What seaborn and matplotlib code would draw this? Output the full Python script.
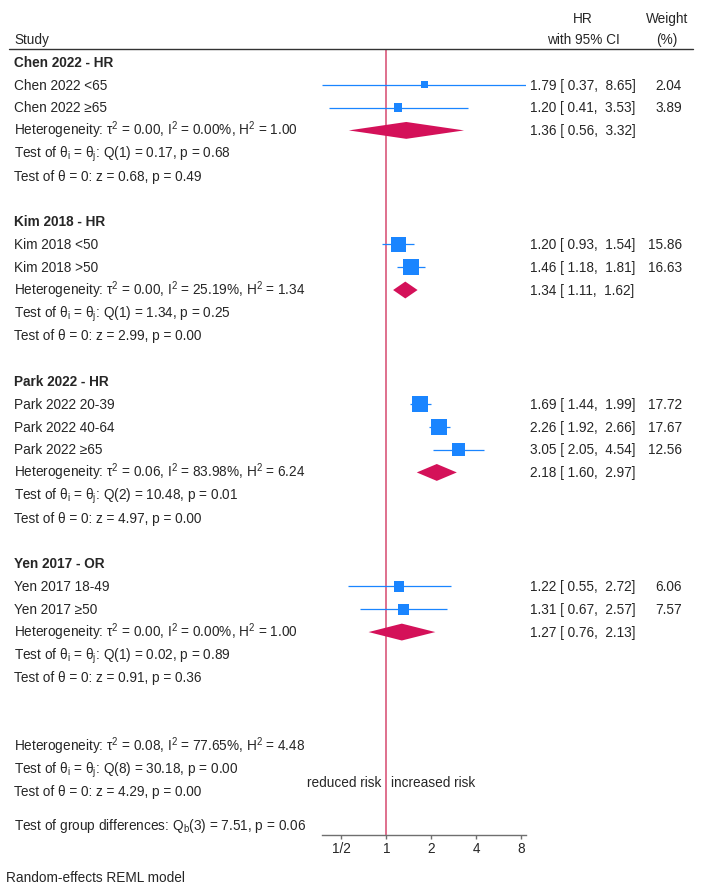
import pandas as pd
import seaborn as sns
import matplotlib.pyplot as plt
from matplotlib.transforms import blended_transform_factory
from matplotlib.patches import Polygon
from matplotlib.lines import Line2D

sns.set_theme(style="white")
plt.rcParams["font.family"] = ["Liberation Sans", "DejaVu Sans"]
plt.rcParams["mathtext.fontset"] = "custom"
plt.rcParams["mathtext.rm"] = "Liberation Sans"
plt.rcParams["mathtext.it"] = "Liberation Sans:italic"
plt.rcParams["font.size"] = 9.8

# ---- data ----
groups = ["Chen 2022 - HR", "Kim 2018 - HR", "Park 2022 - HR", "Yen 2017 - OR"]
study_group = [0, 0, 1, 1, 2, 2, 2, 3, 3]
study_labels = ["Chen 2022 <65", "Chen 2022 ≥65", "Kim 2018 <50", "Kim 2018 >50",
                "Park 2022 20-39", "Park 2022 40-64", "Park 2022 ≥65",
                "Yen 2017 18-49", "Yen 2017 ≥50"]
study_est = [1.79, 1.20, 1.20, 1.46, 1.69, 2.26, 3.05, 1.22, 1.31]
study_lo = [0.37, 0.41, 0.93, 1.18, 1.44, 1.92, 2.05, 0.55, 0.67]
study_hi = [8.65, 3.53, 1.54, 1.81, 1.99, 2.66, 4.54, 2.72, 2.57]
study_weight = [2.04, 3.89, 15.86, 16.63, 17.72, 17.67, 12.56, 6.06, 7.57]

group_est = [1.36, 1.34, 2.18, 1.27]
group_lo = [0.56, 1.11, 1.60, 0.76]
group_hi = [3.32, 1.62, 2.97, 2.13]
group_tau2 = ["0.00", "0.00", "0.06", "0.00"]
group_i2 = ["0.00", "25.19", "83.98", "0.00"]
group_h2 = ["1.00", "1.34", "6.24", "1.00"]
group_q = ["Q(1) = 0.17, p = 0.68", "Q(1) = 1.34, p = 0.25",
           "Q(2) = 10.48, p = 0.01", "Q(1) = 0.02, p = 0.89"]
group_z = ["z = 0.68, p = 0.49", "z = 2.99, p = 0.00",
           "z = 4.97, p = 0.00", "z = 0.91, p = 0.36"]

overall_het = ["0.08", "77.65", "4.48"]
overall_q = "Q(8) = 30.18, p = 0.00"
overall_z = "z = 4.29, p = 0.00"
group_diff = "Q$_\\mathregular{b}$(3) = 7.51, p = 0.06"

tick_vals = [0.5, 1, 2, 4, 8]
tick_labels = ["1/2", "1", "2", "4", "8"]

BLUE = "#1a85ff"
CRAN = "#d41159"


def het_text(t, i, h):
    return ("Heterogeneity: τ$^\\mathregular{2}$ = %s, I$^\\mathregular{2}$ = %s%%, "
            "H$^\\mathregular{2}$ = %s" % (t, i, h))


def q_text(q):
    return "Test of θ$_\\mathregular{i}$ = θ$_\\mathregular{j}$: " + q


def z_text(z):
    return "Test of θ = 0: " + z


# ---- row layout ----
rows = []  # (y, kind, text)
study_y = []
group_y = []
r = 0
for g, name in enumerate(groups):
    rows.append((r, "head", name))
    r += 1
    for k in range(len(study_labels)):
        if study_group[k] == g:
            study_y.append(r)
            r += 1
    group_y.append(r)
    rows.append((r, "text", het_text(group_tau2[g], group_i2[g], group_h2[g])))
    rows.append((r + 1, "text", q_text(group_q[g])))
    rows.append((r + 2, "text", z_text(group_z[g])))
    r += 4
r += 1
rows.append((r, "text", het_text(*overall_het)))
rows.append((r + 1, "text", q_text(overall_q)))
rows.append((r + 2, "text", z_text(overall_z)))
risk_y = r + 1.6
diff_y = r + 3.45
y_bottom = r + 3.9
y_top = -0.57
base = 0.21  # baseline shift so caps sit centred on the row

df = pd.DataFrame({"label": study_labels, "est": study_est, "lo": study_lo,
                   "hi": study_hi, "weight": study_weight, "y": study_y})

fig = plt.figure(figsize=(7.05, 8.88), dpi=100)
ax = fig.add_axes([322 / 705, 53 / 888, 204 / 705, 786 / 888])

ax.axvline(1, color="#d9587a", lw=1.2, zorder=1)
ax.hlines(df["y"], df["lo"], df["hi"], color=BLUE, lw=0.9, zorder=2)
sns.scatterplot(data=df, x="est", y="y", size="weight",
                sizes=(25.4, 132.7), size_norm=(min(study_weight), max(study_weight)),
                marker="s", color=BLUE, edgecolor="none", legend=False, ax=ax, zorder=3)

dh = 0.37
for g in range(len(groups)):
    y = group_y[g]
    ax.add_patch(Polygon([(group_lo[g], y), (group_est[g], y - dh),
                          (group_hi[g], y), (group_est[g], y + dh)],
                         closed=True, facecolor=CRAN, edgecolor="none", zorder=3))

ax.set_xscale("log", base=2)
ax.set_xlim(min(study_lo), max(study_hi))
ax.set_ylim(y_bottom, y_top)
ax.set_xticks(tick_vals)
ax.set_xticklabels(tick_labels)
ax.minorticks_off()
ax.set_yticks([])
ax.set_xlabel("")
ax.set_ylabel("")
for s in ["top", "left", "right"]:
    ax.spines[s].set_visible(False)
ax.spines["bottom"].set_color("#6f6f6f")
ax.spines["bottom"].set_linewidth(1.0)
ax.tick_params(axis="x", bottom=True, direction="out", length=3, width=1,
               color="#6f6f6f", labelsize=9.8, pad=2)

tr = blended_transform_factory(fig.transFigure, ax.transData)
x_lab = 14 / 705
x_ci = 530 / 705
x_w = 682 / 705
x_wh = 667 / 705
x_hr = 583 / 705


def put(x, y, s, ha="left", **kw):
    ax.text(x, y + base, s, transform=tr, ha=ha, va="baseline", clip_on=False, **kw)


# header
put(x_lab, -1.0, "Study")
put(x_hr, -1.93, "HR", ha="center")
put(x_hr, -1.0, "with 95% CI", ha="center")
put(x_wh, -1.93, "Weight", ha="center")
put(x_wh, -1.0, "(%)", ha="center")
fig.add_artist(Line2D([9 / 705, 693 / 705], [y_top, y_top], transform=tr,
                      color="#333333", lw=1.0))

for y, kind, txt in rows:
    put(x_lab, y, txt, fontweight="bold" if kind == "head" else "normal")

for k in range(len(study_labels)):
    y = study_y[k]
    put(x_lab, y, study_labels[k])
    put(x_ci, y, "%.2f [ %.2f,  %.2f]" % (study_est[k], study_lo[k], study_hi[k]))
    put(x_w, y, "%.2f" % study_weight[k], ha="right")

for g in range(len(groups)):
    put(x_ci, group_y[g], "%.2f [ %.2f,  %.2f]" % (group_est[g], group_lo[g], group_hi[g]))

put(x_lab, diff_y, "Test of group differences: " + group_diff)
ax.annotate("reduced risk", (1, risk_y + base), xytext=(-3.5, 0), textcoords="offset points",
            ha="right", va="baseline", annotation_clip=False)
ax.annotate("increased risk", (1, risk_y + base), xytext=(3.5, 0), textcoords="offset points",
            ha="left", va="baseline", annotation_clip=False)
put(6 / 705, 35.75, "Random-effects REML model")

fig.savefig("out.png", dpi=100)
